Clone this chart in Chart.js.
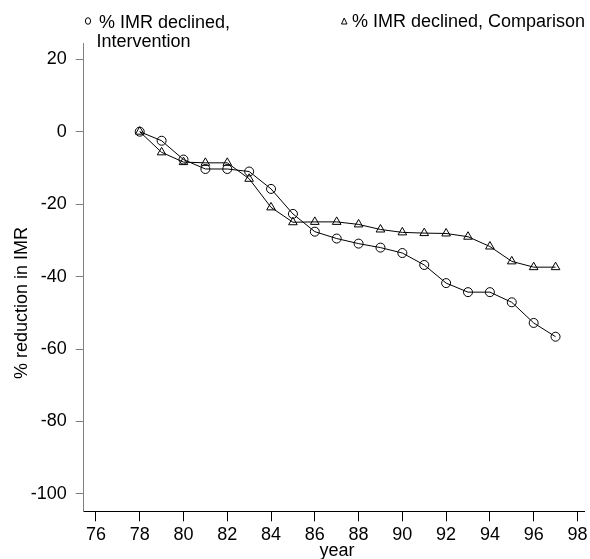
<!DOCTYPE html>
<html>
<head>
<meta charset="utf-8">
<script src="https://cdn.jsdelivr.net/npm/chart.js@4.4.1/dist/chart.umd.min.js"></script>
<style>
  html, body { margin: 0; padding: 0; background: #fff; }
  canvas { display: block; }
</style>
</head>
<body>
<canvas id="chart" width="590" height="559"></canvas>
<script>
// values
const years = [78, 79, 80, 81, 82, 83, 84, 85, 86, 87, 88, 89, 90, 91, 92, 93, 94, 95, 96, 97];
const intervention = [0, -2.5, -7.7, -10.3, -10.3, -11.0, -15.8, -22.7, -27.6, -29.5, -30.9, -32.0, -33.5, -36.8, -41.8, -44.3, -44.3, -47.1, -52.8, -56.6];
const comparison = [0, -5.7, -8.4, -8.6, -8.6, -13.0, -20.9, -25.0, -24.9, -24.9, -25.6, -27.0, -27.8, -28.0, -28.1, -29.0, -31.7, -35.8, -37.4, -37.4];
const xTicks = [76, 78, 80, 82, 84, 86, 88, 90, 92, 94, 96, 98];
const yTicks = [20, 0, -20, -40, -60, -80, -100];

const FONT = '"Liberation Sans", Arial, sans-serif';
Chart.defaults.font.family = FONT;
Chart.defaults.font.size = 18;
Chart.defaults.color = '#000';

// legend + axis titles drawn by hand, like the stata layout
const labels = {
  id: 'labels',
  afterDraw(chart) {
    const ctx = chart.ctx;
    ctx.save();
    ctx.fillStyle = '#000';
    ctx.strokeStyle = '#000';
    ctx.lineWidth = 1;
    ctx.font = '18px ' + FONT;
    ctx.textBaseline = 'alphabetic';
    ctx.textAlign = 'left';

    // intervention legend
    ctx.beginPath();
    ctx.ellipse(88, 21, 2.6, 3.3, 0, 0, Math.PI * 2);
    ctx.stroke();
    ctx.fillText('% IMR declined,', 99, 28);
    ctx.fillText('Intervention', 96.5, 47);

    // comparison legend
    ctx.beginPath();
    ctx.moveTo(341.5, 24);
    ctx.lineTo(347, 24);
    ctx.lineTo(344.2, 18);
    ctx.closePath();
    ctx.stroke();
    ctx.fillText('% IMR declined, Comparison', 352, 27);

    // x title
    ctx.textAlign = 'center';
    ctx.fillText('year', 337, 556);

    // y title
    ctx.translate(27, 303);
    ctx.rotate(-Math.PI / 2);
    ctx.fillText('% reduction in IMR', 0, 0);
    ctx.restore();
  }
};

new Chart(document.getElementById('chart'), {
  type: 'line',
  data: {
    datasets: [
      {
        label: '% IMR declined, Intervention',
        data: years.map((y, i) => ({ x: y, y: intervention[i] })),
        borderColor: '#000',
        borderWidth: 1,
        pointStyle: 'circle',
        pointRadius: 4.5,
        pointBorderWidth: 1,
        pointBorderColor: '#000',
        pointBackgroundColor: 'rgba(0,0,0,0)',
        tension: 0
      },
      {
        label: '% IMR declined, Comparison',
        data: years.map((y, i) => ({ x: y, y: comparison[i] })),
        borderColor: '#000',
        borderWidth: 1,
        pointStyle: 'triangle',
        pointRadius: 5,
        pointBorderWidth: 1,
        pointBorderColor: '#000',
        pointBackgroundColor: 'rgba(0,0,0,0)',
        tension: 0
      }
    ]
  },
  options: {
    responsive: false,
    animation: false,
    devicePixelRatio: 1,
    layout: { padding: { top: 43.3, right: 0, left: 0, bottom: 0 } },
    plugins: {
      legend: { display: false },
      tooltip: { enabled: false }
    },
    scales: {
      x: {
        type: 'linear',
        min: 75.44,
        max: 98.3,
        afterBuildTicks: (scale) => { scale.ticks = xTicks.map(v => ({ value: v })); },
        afterFit: (scale) => {
          scale.height = 559 - 511.3;
          scale.paddingLeft = 0;
          scale.paddingRight = 0;
        },
        grid: { drawOnChartArea: false, drawTicks: true, tickLength: 10, color: '#000' },
        border: { display: true, color: '#000', width: 1 },
        ticks: { padding: 3, maxRotation: 0, autoSkip: false, font: { size: 18 } }
      },
      y: {
        type: 'linear',
        min: -104.8,
        max: 24.4,
        afterBuildTicks: (scale) => { scale.ticks = yTicks.map(v => ({ value: v })); },
        afterFit: (scale) => {
          scale.width = 83.7;
          scale.paddingTop = 0;
          scale.paddingBottom = 0;
        },
        grid: { drawOnChartArea: false, drawTicks: true, tickLength: 8, color: '#808080' },
        border: { display: true, color: '#808080', width: 1 },
        ticks: { padding: 9, autoSkip: false, font: { size: 18 } }
      }
    }
  },
  plugins: [labels]
});
</script>
</body>
</html>
